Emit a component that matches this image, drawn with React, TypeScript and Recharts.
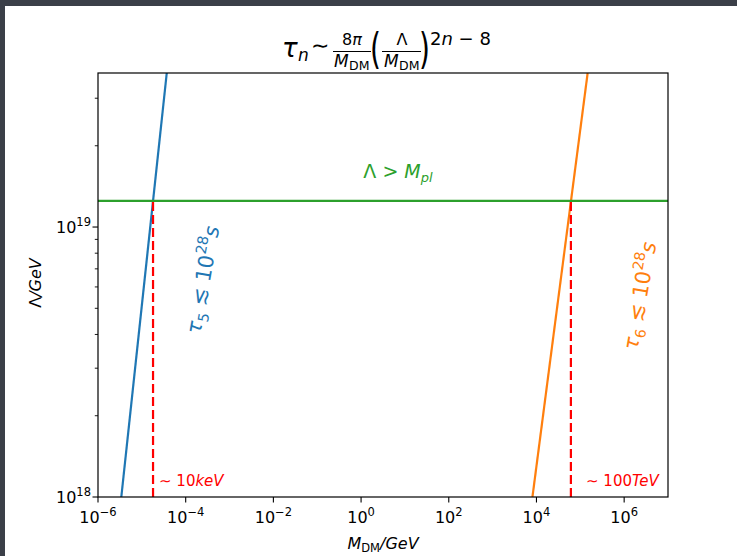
import { LineChart, Line, XAxis, YAxis } from 'recharts'

// axis ranges and ticks (log scales)
const xDomain = [1e-6, 1e7]
const yDomain = [1e18, 3.72e19]
const xTicks = [1e-6, 1e-4, 1e-2, 1, 1e2, 1e4, 1e6]
const yTicks = [1e18, 2e18, 3e18, 4e18, 5e18, 6e18, 7e18, 8e18, 9e18, 1e19, 2e19, 3e19]

// curves
const tau5 = [
	{ x: 3.4e-6, y: 1e18 },
	{ x: 3.7e-5, y: 3.72e19 },
]
const tau6 = [
	{ x: 8.1e3, y: 1e18 },
	{ x: 1.47e5, y: 3.72e19 },
]
const planck = [
	{ x: 1e-6, y: 1.25e19 },
	{ x: 1e7, y: 1.25e19 },
]
const cut10keV = [
	{ x: 1.8e-5, y: 1e18 },
	{ x: 1.8e-5, y: 1.25e19 },
]
const cut100TeV = [
	{ x: 6.1e4, y: 1e18 },
	{ x: 6.1e4, y: 1.25e19 },
]

const FONT = 'DejaVu Sans'
const W = 737
const H = 556

const expLabel = (v: number) => {
	const e = Math.round(Math.log10(v))
	return (e < 0 ? '\u2212' : '') + Math.abs(e)
}

const XTick = (props: any) => {
	const { x, y, payload } = props
	return (
		<g>
			<line x1={x} x2={x} y1={y} y2={y + 5.5} stroke="#000" strokeWidth={1.1} />
			<text x={x} y={y + 26} textAnchor="middle" fontSize={16} fontFamily={FONT} fill="#000">
				10
				<tspan dy={-7} fontSize={11.5}>
					{expLabel(payload.value)}
				</tspan>
			</text>
		</g>
	)
}

const YTick = (props: any) => {
	const { x, y, payload } = props
	const e = Math.log10(payload.value)
	const major = Math.abs(e - Math.round(e)) < 1e-6
	return (
		<g>
			<line x1={x - (major ? 5.5 : 3.2)} x2={x} y1={y} y2={y} stroke="#000" strokeWidth={major ? 1.1 : 0.9} />
			{major && (
				<text x={x - 7} y={y + 6} textAnchor="end" fontSize={16} fontFamily={FONT} fill="#000">
					10
					<tspan dy={-7} fontSize={11.5}>
						{expLabel(payload.value)}
					</tspan>
				</text>
			)}
		</g>
	)
}

const Overlay = () => (
	<svg
		width={W}
		height={H}
		fontFamily={FONT}
		style={{ position: 'absolute', left: 0, top: 0, pointerEvents: 'none' }}>
		<rect x={98} y={73} width={570} height={424} fill="none" stroke="#000" strokeWidth={1.2} />

		{/* title */}
		<text x={282} y={57} fontSize={26} fontStyle="italic">τ</text>
		<text x={298} y={61} fontSize={17} fontStyle="italic">n</text>
		<text x={311} y={53} fontSize={22}>∼</text>
		<text x={352} y={45} fontSize={16} textAnchor="middle">
			8<tspan fontStyle="italic">π</tspan>
		</text>
		<line x1={333} x2={371} y1={51.5} y2={51.5} stroke="#000" strokeWidth={1.2} />
		<text x={334} y={67} fontSize={17} fontStyle="italic">M</text>
		<text x={349} y={70} fontSize={12.5}>DM</text>
		<text transform="translate(370,64) scale(1,1.55)" fontSize={28}>(</text>
		<text x={402} y={45} fontSize={16} textAnchor="middle">Λ</text>
		<line x1={382} x2={421} y1={51.5} y2={51.5} stroke="#000" strokeWidth={1.2} />
		<text x={384} y={67} fontSize={17} fontStyle="italic">M</text>
		<text x={399} y={70} fontSize={12.5}>DM</text>
		<text transform="translate(419,64) scale(1,1.55)" fontSize={28}>)</text>
		<text x={430} y={45} fontSize={18}>
			2<tspan fontStyle="italic">n</tspan>
			{' \u2212 8'}
		</text>

		{/* axis labels */}
		<text x={383} y={549} fontSize={16} textAnchor="middle">
			<tspan fontStyle="italic">M</tspan>
			<tspan dy={3} fontSize={11.5}>DM</tspan>
			<tspan dy={-3} fontStyle="italic">/GeV</tspan>
		</text>
		<text transform="translate(41,283) rotate(-90)" fontSize={16} textAnchor="middle">
			Λ<tspan fontStyle="italic">/GeV</tspan>
		</text>

		{/* annotations */}
		<text x={398} y={178} fontSize={19} textAnchor="middle" fill="#2ca02c">
			Λ {'> '}
			<tspan fontStyle="italic">M</tspan>
			<tspan dy={4} fontSize={13} fontStyle="italic">pl</tspan>
		</text>
		<text transform="translate(210,281) rotate(-80)" fontSize={21} textAnchor="middle" fill="#1f77b4">
			<tspan fontStyle="italic">τ</tspan>
			<tspan dy={5} fontSize={14.5}>5</tspan>
			<tspan dy={-5}>{' ≲ 10'}</tspan>
			<tspan dy={-9} fontSize={14.5}>28</tspan>
			<tspan dy={9} fontStyle="italic">s</tspan>
		</text>
		<text transform="translate(647,297) rotate(-80)" fontSize={21} textAnchor="middle" fill="#ff7f0e">
			<tspan fontStyle="italic">τ</tspan>
			<tspan dy={5} fontSize={14.5}>6</tspan>
			<tspan dy={-5}>{' ≲ 10'}</tspan>
			<tspan dy={-9} fontSize={14.5}>28</tspan>
			<tspan dy={9} fontStyle="italic">s</tspan>
		</text>
		<text x={159} y={486} fontSize={15} fill="red">
			{'∼ 10'}
			<tspan fontStyle="italic">keV</tspan>
		</text>
		<text x={586} y={486} fontSize={15} fill="red">
			{'∼ 100'}
			<tspan fontStyle="italic">TeV</tspan>
		</text>
	</svg>
)

export default function App() {
	return (
		<div style={{ position: 'absolute', left: 0, top: 0, width: W, height: H, background: '#3b3f48' }}>
			<div style={{ position: 'absolute', left: 5, top: 6, right: 0, bottom: 0, background: '#fff' }} />
			<div style={{ position: 'absolute', left: 0, top: 0 }}>
				<LineChart width={W} height={H} margin={{ top: 73, right: 69, bottom: 19, left: 38 }}>
					<XAxis
						type="number"
						dataKey="x"
						scale="log"
						domain={xDomain}
						ticks={xTicks}
						interval={0}
						allowDataOverflow
						height={40}
						axisLine={false}
						tickLine={false}
						tickSize={0}
						tickMargin={0}
						tick={<XTick />}
					/>
					<YAxis
						type="number"
						scale="log"
						domain={yDomain}
						ticks={yTicks}
						interval={0}
						allowDataOverflow
						width={60}
						axisLine={false}
						tickLine={false}
						tickSize={0}
						tickMargin={0}
						tick={<YTick />}
					/>
					<Line data={tau5} dataKey="y" stroke="#1f77b4" strokeWidth={2.2} dot={false} isAnimationActive={false} />
					<Line data={tau6} dataKey="y" stroke="#ff7f0e" strokeWidth={2.2} dot={false} isAnimationActive={false} />
					<Line data={planck} dataKey="y" stroke="#2ca02c" strokeWidth={2.2} dot={false} isAnimationActive={false} />
					<Line
						data={cut10keV}
						dataKey="y"
						stroke="red"
						strokeWidth={2.2}
						strokeDasharray="9 4"
						dot={false}
						isAnimationActive={false}
					/>
					<Line
						data={cut100TeV}
						dataKey="y"
						stroke="red"
						strokeWidth={2.2}
						strokeDasharray="9 4"
						dot={false}
						isAnimationActive={false}
					/>
				</LineChart>
			</div>
			<Overlay />
		</div>
	)
}
